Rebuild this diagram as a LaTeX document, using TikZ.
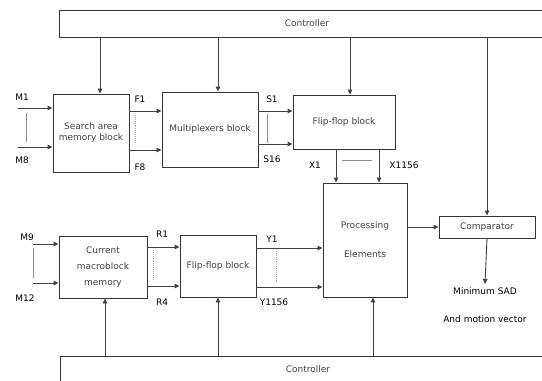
\documentclass[tikz,border=0pt]{standalone}
\usepackage{fontspec}
\setmainfont{DejaVu Sans}
\usetikzlibrary{arrows.meta,calc}
\tikzset{blk/.style={draw=black!80,line width=0.9pt,rectangle,inner sep=0pt,align=center,text=black!75},
 sig/.style={-{Triangle[length=5pt,width=4.5pt]},draw=black!75,line width=0.9pt},
 sep/.style={draw=black!45,line width=0.6pt},
 sepdot/.style={draw=black!35,densely dotted,line width=0.9pt},
 every node/.style={font=\fontsize{9}{11}\selectfont}}

\begin{document}
\begin{tikzpicture}[x=1pt,y=-1pt]
\useasboundingbox (0,0) rectangle (542,381);
\node[blk,minimum width=496,minimum height=27] (ctrla) at (307,23.5) {Controller};
\node[blk,minimum width=496,minimum height=27] (ctrlb) at (308,369.5) {Controller};
\node[blk,minimum width=76,minimum height=78] (search) at (91,133) {Search area\\memory block};
\node[blk,minimum width=96,minimum height=75] (mux) at (210,129.5) {Multiplexers block};
\node[blk,minimum width=102,minimum height=54] (ffa) at (344,122) {Flip-flop block};
\node[blk,minimum width=84,minimum height=114] (pe) at (365,240) {Processing\\[18pt]Elements};
\node[blk,minimum width=96,minimum height=22] (comp) at (487,227) {Comparator};
\node[blk,minimum width=88,minimum height=62] (cmm) at (103,267) {Current\\[5pt]macroblock\\[5pt]memory};
\node[blk,minimum width=76,minimum height=62] (ffb) at (218,266) {Flip-flop block};
\node (minsad) at (485,291) {Minimum SAD};
\node (motvec) at (485,319) {And motion vector};

\draw[sig] ([xshift=9]search.north |- ctrla.south) -- ([xshift=9]search.north);
\draw[sig] ([xshift=8]mux.north |- ctrla.south) -- ([xshift=8]mux.north);
\draw[sig] ([xshift=6]ffa.north |- ctrla.south) -- ([xshift=6]ffa.north);
\draw[sig] (comp.north |- ctrla.south) -- (comp.north);
\draw[sig] ([xshift=2]cmm.south |- ctrlb.north) -- ([xshift=2]cmm.south);
\draw[sig] (ffb.south |- ctrlb.north) -- (ffb.south);
\draw[sig] ([xshift=8]pe.south |- ctrlb.north) -- ([xshift=8]pe.south);

\coordinate (m1) at (18,108);
\coordinate (m8) at (18,147);
\draw[sig] (m1) -- (m1 -| search.west);
\draw[sig] (m8) -- (m8 -| search.west);
\draw[sep] (26,113) -- (26,142);
\node (lm1) at (22,97) {M1};
\node (lm8) at (22,160) {M8};

\draw[sig] (search.east |- 0,111) -- (mux.west |- 0,111);
\draw[sig] (search.east |- 0,150) -- (mux.west |- 0,150);
\draw[sepdot] (135,115) -- (135,143);
\node (lf1) at (140,99) {F1};
\node (lf8) at (140,167) {F8};

\draw[sig] (mux.east |- 0,111) -- (ffa.west |- 0,111);
\draw[sig] (mux.east |- 0,144) -- (ffa.west |- 0,144);
\draw[sep] (267,114) -- (267,143);
\node (ls1) at (272,99) {S1};
\node (ls16) at (272,159) {S16};

\draw[sig] (ffa.south -| 336,0) -- (pe.north -| 336,0);
\draw[sig] (ffa.south -| 379,0) -- (pe.north -| 379,0);
\draw[sep] (342,160) -- (372,160);
\node (lx1) at (315,165) {X1};
\node (lx1156) at (404,165) {X1156};

\coordinate (m9) at (33,244);
\coordinate (m12) at (33,283);
\draw[sig] (m9) -- (m9 -| cmm.west);
\draw[sig] (m12) -- (m12 -| cmm.west);
\draw[sep] (33,248) -- (33,278);
\node (lm9) at (27,237) {M9};
\node (lm12) at (25,298) {M12};

\draw[sig] (cmm.east |- 0,247) -- (ffb.west |- 0,247);
\draw[sig] (cmm.east |- 0,286) -- (ffb.west |- 0,286);
\draw[sepdot] (153,250) -- (153,280);
\node (lr1) at (162,234) {R1};
\node (lr4) at (162,302) {R4};

\draw[sig] (ffb.east |- 0,248) -- (pe.west |- 0,248);
\draw[sig] (ffb.east |- 0,287) -- (pe.west |- 0,287);
\draw[sepdot] (276,251) -- (276,282);
\node (ly1) at (272,239) {Y1};
\node (ly1156) at (274,302) {Y1156};

\draw[sig] (comp.west -| pe.east) -- (comp.west);
\draw[sig] (comp.south) -- (minsad.north);
\end{tikzpicture}
\end{document}
